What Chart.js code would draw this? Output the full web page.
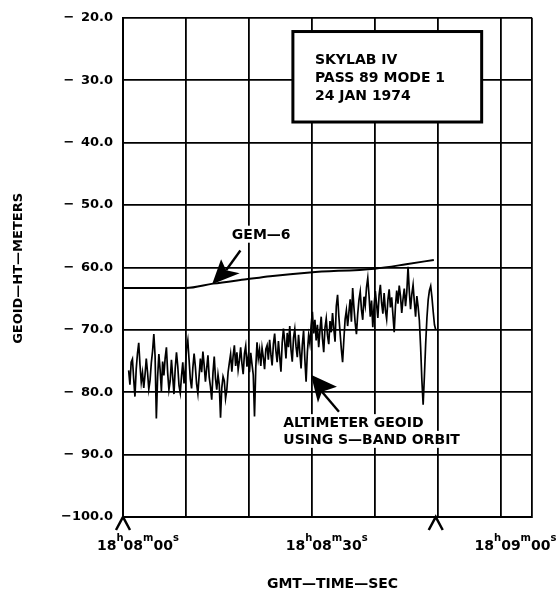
<!DOCTYPE html>
<html>
<head>
<meta charset="utf-8">
<script src="https://cdn.jsdelivr.net/npm/chart.js@4.4.1/dist/chart.umd.min.js"></script>
<style>
  body { margin: 0; background: #fff; }
  #wrap { width: 557px; height: 594px; position: relative; }
</style>
</head>
<body>
<div id="wrap"><canvas id="chart"></canvas></div>
<script>
// GEM-6 reference geoid (seconds after 18h08m00s, metres)
const gemTime = [0, 10, 14.3, 19.6, 23.4, 29.7, 40, 45, 49.4];
const gemValue = [-63.3, -63.3, -62.6, -61.9, -61.4, -60.8, -60.2, -59.5, -58.8];

// altimeter geoid, one sample every 0.2 s starting at 0.9 s
const altStart = 0.9;
const altStep = 0.2;
const altValues = [
    -76.5, -78.8, -75.2, -74.7, -77.9, -80.7, -76.3, -73.8, -72.1, -75.6,
    -78.4, -76.9, -79.3, -77.2, -74.6, -76.8, -79.5, -78.1, -75.3, -73.4,
    -70.7, -74.2, -84.2, -77.6, -73.9, -76.4, -79.8, -75.1, -77.3, -74.5,
    -72.8, -76.9, -79.6, -78.2, -74.8, -77.5, -80.3, -76.2, -73.6, -75.8,
    -78.9, -80.1, -77.4, -75.2, -78.6, -76.3, -72.9, -71.7, -74.8, -77.9,
    -79.4, -76.1, -73.8, -75.9, -78.7, -80.2, -77.3, -74.6, -76.8, -73.5,
    -75.7, -78.3, -76.2, -74.1, -77.6, -79.1, -81.2, -76.9, -74.3, -77.8,
    -79.6, -77.2, -78.8, -84.1, -79.3, -77.5, -78.2, -81.0, -79.6, -76.8,
    -75.3, -73.9, -76.7, -74.2, -72.5, -75.8, -73.6, -76.4, -74.9, -72.8,
    -75.4, -77.1, -73.8, -72.6, -75.9, -74.3, -76.8, -73.7, -75.5, -77.2,
    -83.9, -76.1, -72.0, -74.6, -73.2, -75.8, -72.9, -74.4, -76.3, -73.1,
    -72.5, -74.8, -71.6, -73.9, -75.7, -72.3, -70.6, -73.4, -75.2, -71.8,
    -74.3, -76.7, -72.1, -69.8, -71.9, -74.6, -70.5, -72.8, -69.4, -73.2,
    -75.1, -71.3, -69.9, -72.7, -74.4, -70.8, -73.5, -76.2, -72.4, -70.1,
    -74.7, -78.3, -73.6, -70.9, -72.2, -69.3, -67.1, -70.6, -68.4, -71.7,
    -69.2, -72.8, -70.1, -67.9, -71.4, -73.6, -69.7, -68.2, -70.9, -72.3,
    -68.6, -70.4, -67.3, -69.8, -71.9, -66.2, -64.4, -67.8, -70.5, -73.1,
    -75.2, -71.6, -68.3, -66.9, -69.4, -67.2, -65.1, -68.7, -63.3, -66.4,
    -68.9, -70.7, -67.5, -65.2, -63.9, -66.8, -68.4, -64.7, -66.1, -63.2,
    -61.7, -64.5, -67.9, -65.3, -69.6, -66.2, -63.8, -65.9, -68.1, -64.4,
    -62.8, -65.7, -67.4, -64.1, -66.9, -68.3, -65.2, -63.5, -66.4, -64.8,
    -67.6, -70.4, -66.2, -63.7, -65.8, -62.9, -64.6, -67.3, -65.1, -63.4,
    -66.2, -64.0, -59.9, -63.8, -66.7, -64.3, -62.8, -65.5, -67.9, -64.6,
    -66.3, -68.5, -72.8, -78.1, -82.0, -77.4, -72.3, -68.1, -65.2, -63.7,
    -63.0, -64.8, -67.1, -69.2, -70.0
];

// x tick labels: time in seconds and its hour / minute / second parts
const xLabelTimes = [0, 30, 60];
const xLabelParts = [
    ['18', '08', '00'],
    ['18', '08', '30'],
    ['18', '09', '00']
];
const caretTimes = [0, 49.7];

const infoLines = ['SKYLAB IV', 'PASS 89 MODE 1', '24 JAN 1974'];
const gemLabel = 'GEM\u20146';
const altLabel = ['ALTIMETER GEOID', 'USING S\u2014BAND ORBIT'];

const FONT = '"DejaVu Sans", sans-serif';

function drawArrow(ctx, tx, ty, pts) {
    // pts: [wing, notch, other wing, shaft end] relative to the tip
    ctx.beginPath();
    ctx.moveTo(tx, ty);
    ctx.lineTo(tx + pts[0][0], ty + pts[0][1]);
    ctx.lineTo(tx + pts[1][0], ty + pts[1][1]);
    ctx.lineTo(tx + pts[2][0], ty + pts[2][1]);
    ctx.closePath();
    ctx.fill();
    ctx.beginPath();
    ctx.moveTo(tx + pts[1][0], ty + pts[1][1]);
    ctx.lineTo(tx + pts[3][0], ty + pts[3][1]);
    ctx.lineWidth = 2.4;
    ctx.stroke();
}

function textWithBg(ctx, text, x, y) {
    let w = ctx.measureText(text).width;
    ctx.fillStyle = '#fff';
    ctx.fillRect(x - 3, y - 13, w + 6, 17);
    ctx.fillStyle = '#000';
    ctx.fillText(text, x, y);
}

const decor = {
    id: 'decor',
    afterDatasetsDraw(chart) {
        const {ctx, scales: {x, y}, chartArea} = chart;
        ctx.save();
        ctx.fillStyle = '#000';
        ctx.strokeStyle = '#000';
        ctx.textBaseline = 'alphabetic';

        // info box
        let bx1 = x.getPixelForValue(27.0), bx2 = x.getPixelForValue(57.0);
        let by1 = y.getPixelForValue(-22.2), by2 = y.getPixelForValue(-36.7);
        ctx.fillStyle = '#fff';
        ctx.fillRect(bx1, by1, bx2 - bx1, by2 - by1);
        ctx.lineWidth = 3;
        ctx.strokeRect(bx1, by1, bx2 - bx1, by2 - by1);
        ctx.fillStyle = '#000';
        ctx.font = 'bold 14px ' + FONT;
        infoLines.forEach((line, i) => {
            ctx.fillText(line, bx1 + 22, by1 + 32 + i * 18.3);
        });

        // GEM-6 label and arrow
        ctx.font = 'bold 14px ' + FONT;
        textWithBg(ctx, gemLabel, x.getPixelForValue(17.3), y.getPixelForValue(-55.4));
        drawArrow(ctx, x.getPixelForValue(14.16), y.getPixelForValue(-62.7),
            [[9, -25], [14, -14], [27.6, -11], [28.3, -33.7]]);

        // altimeter label and arrow
        let ax = x.getPixelForValue(25.47), ay = y.getPixelForValue(-85.6);
        textWithBg(ctx, altLabel[0], ax, ay);
        textWithBg(ctx, altLabel[1], ax, ay + 16.7);
        drawArrow(ctx, x.getPixelForValue(29.87), y.getPixelForValue(-77.2),
            [[7, 28], [11, 17], [26, 12], [28, 37]]);

        // carets below the axis
        ctx.lineWidth = 2.5;
        caretTimes.forEach(t => {
            let px = x.getPixelForValue(t);
            ctx.beginPath();
            ctx.moveTo(px - 7, chartArea.bottom + 13);
            ctx.lineTo(px, chartArea.bottom);
            ctx.lineTo(px + 7, chartArea.bottom + 13);
            ctx.stroke();
        });

        // x tick labels with superscript units
        const units = ['h', 'm', 's'];
        xLabelTimes.forEach((t, i) => {
            let px = x.getPixelForValue(t) - 26;
            let base = chartArea.bottom + 33;
            xLabelParts[i].forEach((part, j) => {
                ctx.font = 'bold 14px ' + FONT;
                ctx.fillText(part, px, base);
                px += ctx.measureText(part).width;
                ctx.font = 'bold 10px ' + FONT;
                ctx.fillText(units[j], px, base - 9);
                px += ctx.measureText(units[j]).width;
            });
        });

        // axis titles
        ctx.font = 'bold 14px ' + FONT;
        ctx.textAlign = 'center';
        ctx.textBaseline = 'middle';
        ctx.fillText('GMT\u2014TIME\u2014SEC', (chartArea.left + chartArea.right) / 2 + 5, 584);
        ctx.font = 'bold 13px ' + FONT;
        ctx.translate(19, (chartArea.top + chartArea.bottom) / 2 + 1);
        ctx.rotate(-Math.PI / 2);
        ctx.fillText('GEOID\u2014HT\u2014METERS', 0, 0);
        ctx.restore();
    }
};

const altData = altValues.map((v, i) => ({x: altStart + i * altStep, y: v}));
const gemData = gemTime.map((t, i) => ({x: t, y: gemValue[i]}));

new Chart(document.getElementById('chart'), {
    type: 'line',
    data: {
        datasets: [{
            label: 'GEM-6',
            data: gemData,
            borderColor: '#000',
            borderWidth: 2,
            pointRadius: 0,
            cubicInterpolationMode: 'monotone'
        }, {
            label: 'Altimeter geoid',
            data: altData,
            borderColor: '#000',
            borderWidth: 1.7,
            pointRadius: 0,
            tension: 0
        }]
    },
    options: {
        responsive: true,
        maintainAspectRatio: false,
        animation: false,
        layout: {padding: {top: 11, right: 25, left: 0, bottom: 0}},
        plugins: {legend: {display: false}, tooltip: {enabled: false}},
        scales: {
            x: {
                type: 'linear',
                min: 0,
                max: 65,
                ticks: {stepSize: 10, display: false},
                grid: {color: '#000', lineWidth: 1.8, drawTicks: false},
                border: {color: '#000', width: 2},
                afterFit: s => { s.height = 77; }
            },
            y: {
                min: -100,
                max: -20,
                ticks: {
                    stepSize: 10,
                    padding: 10,
                    color: '#000',
                    font: {family: FONT, size: 13, weight: 'bold'},
                    callback: v => '\u2212' + (v <= -100 ? '' : '\u2002') + Math.abs(v).toFixed(1)
                },
                grid: {color: '#000', lineWidth: 1.8, drawTicks: false},
                border: {color: '#000', width: 2},
                afterFit: s => { s.width = 123; }
            }
        }
    },
    plugins: [decor]
});
</script>
</body>
</html>
